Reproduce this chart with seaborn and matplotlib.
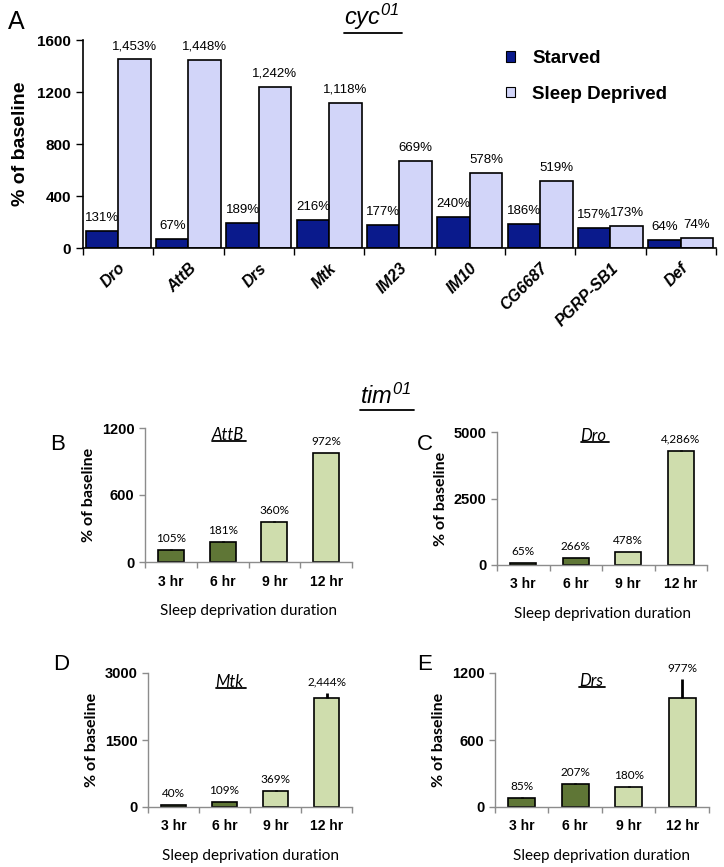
import numpy as np
import pandas as pd
import matplotlib.pyplot as plt
import seaborn as sns
from matplotlib.lines import Line2D
from matplotlib.patches import Patch
from matplotlib.transforms import IdentityTransform

sns.set_style("ticks")
plt.rcParams['font.family'] = ['Liberation Sans', 'DejaVu Sans']
# math text only used for the italic genotype titles
plt.rcParams['mathtext.fontset'] = 'custom'
plt.rcParams['mathtext.it'] = 'Liberation Sans:italic'
plt.rcParams['mathtext.rm'] = 'Liberation Sans:italic'
plt.rcParams['text.color'] = 'black'
plt.rcParams['axes.labelcolor'] = 'black'
plt.rcParams['xtick.color'] = 'black'
plt.rcParams['ytick.color'] = 'black'

# Panel A data (cyc01)
genes = ['Dro', 'AttB', 'Drs', 'Mtk', 'IM23', 'IM10', 'CG6687', 'PGRP-SB1', 'Def']
starved = [131, 67, 189, 216, 177, 240, 186, 157, 64]
sleep_deprived = [1453, 1448, 1242, 1118, 669, 578, 519, 173, 74]

# Panels B-E data (tim01)
durations = ['3 hr', '6 hr', '9 hr', '12 hr']
attb = [105, 181, 360, 972]
attb_err = [8, 6, 4, 8]
dro = [65, 266, 478, 4286]
dro_err = [10, 15, 10, 25]
mtk = [40, 109, 369, 2444]
mtk_err = [5, 8, 8, 110]
drs = [85, 207, 180, 977]
drs_err = [4, 4, 4, 165]

navy = '#0a1a8c'
lavender = '#d2d5f9'
dark_green = '#5f7636'
light_green = '#cfddad'

fig = plt.figure(figsize=(7.24, 8.67), dpi=100)
W, H = 724, 867


def px_axes(left, top, right, bottom):
    return fig.add_axes([left / W, 1 - bottom / H, (right - left) / W, (bottom - top) / H])


underlined = []

# ---------------- Panel A ----------------
axA = px_axes(83, 40, 716, 248)
dfA = pd.DataFrame({
    'gene': genes * 2,
    'value': starved + sleep_deprived,
    'condition': ['Starved'] * len(genes) + ['Sleep Deprived'] * len(genes),
})
sns.barplot(data=dfA, x='gene', y='value', hue='condition', palette=[navy, lavender],
            width=0.92, saturation=1, edgecolor='black', linewidth=1.2, legend=False, ax=axA)
for cont, vals in zip(axA.containers, [starved, sleep_deprived]):
    axA.bar_label(cont, labels=[f'{v:,}%' for v in vals], padding=5, fontsize=9.5)
axA.set_xlim(-0.5, 8.5)
axA.set_ylim(0, 1600)
axA.set_yticks([0, 400, 800, 1200, 1600])
axA.set_xlabel('')
axA.set_ylabel('% of baseline', fontsize=14, fontweight='bold', labelpad=6)
axA.tick_params(axis='y', labelsize=11, length=5, width=1, color='black')
for lbl in axA.get_yticklabels():
    lbl.set_fontweight('bold')
axA.set_xticks(range(len(genes)))
axA.set_xticklabels(genes, rotation=45, ha='right', rotation_mode='anchor',
                    fontsize=11.5, fontweight='bold', fontstyle='italic')
axA.tick_params(axis='x', which='major', length=0, pad=9)
axA.set_xticks(np.arange(-0.5, 9, 1), minor=True)
axA.tick_params(axis='x', which='minor', length=5, width=1, color='black')
for s in ['left', 'bottom']:
    axA.spines[s].set_color('black')
    axA.spines[s].set_linewidth(1.2)
sns.despine(ax=axA)
handles = [Patch(facecolor=navy, edgecolor='black', linewidth=0.8),
           Patch(facecolor=lavender, edgecolor='black', linewidth=0.8)]
fig.legend(handles, ['Starved', 'Sleep Deprived'], loc='upper left',
           bbox_to_anchor=(506 / W, 1 - 50 / H), bbox_transform=fig.transFigure,
           frameon=False, borderpad=0, borderaxespad=0, handlelength=0.5, handleheight=0.5,
           handletextpad=0.9, labelspacing=1.0, prop={'size': 13.5, 'weight': 'bold'})

fig.text(8 / W, 1 - 22 / H, 'A', fontsize=18, va='center', ha='left')
tA = fig.text(372 / W, 1 - 17 / H, r'$cyc^{01}$', fontsize=17, ha='center', va='center')
underlined.append((tA, 0))

# ---------------- Panels B-E ----------------
tT = fig.text(386 / W, 1 - 396 / H, r'$tim^{01}$', fontsize=17, ha='center', va='center')
underlined.append((tT, 0))

panels = [
    ('B', 'AttB', attb, attb_err, [0, 600, 1200], (145, 428, 352, 562), (50, 445), (0.40, 0.95)),
    ('C', 'Dro', dro, dro_err, [0, 2500, 5000], (497, 432, 707, 565), (417, 445), (0.46, 0.97)),
    ('D', 'Mtk', mtk, mtk_err, [0, 1500, 3000], (148, 673, 352, 807), (53, 665), (0.40, 0.93)),
    ('E', 'Drs', drs, drs_err, [0, 600, 1200], (495, 673, 709, 807), (417, 665), (0.45, 0.94)),
]
grey = '#8c8c8c'
for letter, gene, vals, errs, yt, box, lpos, gpos in panels:
    ax = px_axes(*box)
    dfp = pd.DataFrame({'duration': durations, 'value': vals})
    sns.barplot(data=dfp, x='duration', y='value', hue='duration',
                palette=[dark_green, dark_green, light_green, light_green],
                width=0.5, saturation=1, edgecolor='black', linewidth=1.2, legend=False, ax=ax)
    ax.errorbar(range(len(durations)), vals, yerr=[[0] * len(errs), errs], fmt='none',
                ecolor='black', elinewidth=2, capsize=0, zorder=3)
    for i, (v, e) in enumerate(zip(vals, errs)):
        ax.annotate(f'{v:,}%', (i, v + e), xytext=(0, 4), textcoords='offset points',
                    ha='center', va='bottom', fontsize=8.5, family='Lato')
    ax.set_xlim(-0.5, 3.5)
    ax.set_ylim(0, yt[-1])
    ax.set_yticks(yt)
    ax.set_ylabel('% of baseline', fontsize=11.5, fontweight='bold', family='Lato', labelpad=4)
    ax.set_xlabel('Sleep deprivation duration', fontsize=11, family='Lato', labelpad=11)
    ax.tick_params(axis='y', labelsize=10.5, length=4, width=1, color=grey)
    for lbl in ax.get_yticklabels():
        lbl.set_fontweight('bold')
    ax.set_xticks(range(4))
    ax.set_xticklabels(durations, fontsize=10, fontweight='bold')
    ax.tick_params(axis='x', which='major', length=0, pad=9)
    ax.set_xticks(np.arange(-0.5, 4, 1), minor=True)
    ax.tick_params(axis='x', which='minor', length=4, width=1, color=grey)
    for s in ['left', 'bottom']:
        ax.spines[s].set_color(grey)
        ax.spines[s].set_linewidth(1)
    sns.despine(ax=ax)
    fig.text(lpos[0] / W, 1 - lpos[1] / H, letter, fontsize=16, ha='left', va='center')
    tg = ax.text(gpos[0], gpos[1], gene, transform=ax.transAxes, fontsize=12, fontstyle='italic',
                 family='Lato', ha='center', va='center')
    underlined.append((tg, 3))

# underline titles and gene names
fig.canvas.draw()
for t, lift in underlined:
    bb = t.get_window_extent()
    y = bb.y0 - 1 + lift
    fig.add_artist(Line2D([bb.x0, bb.x1 + 2], [y, y], transform=IdentityTransform(),
                          color='black', linewidth=1.3))

fig.savefig('out.png', dpi=100)
